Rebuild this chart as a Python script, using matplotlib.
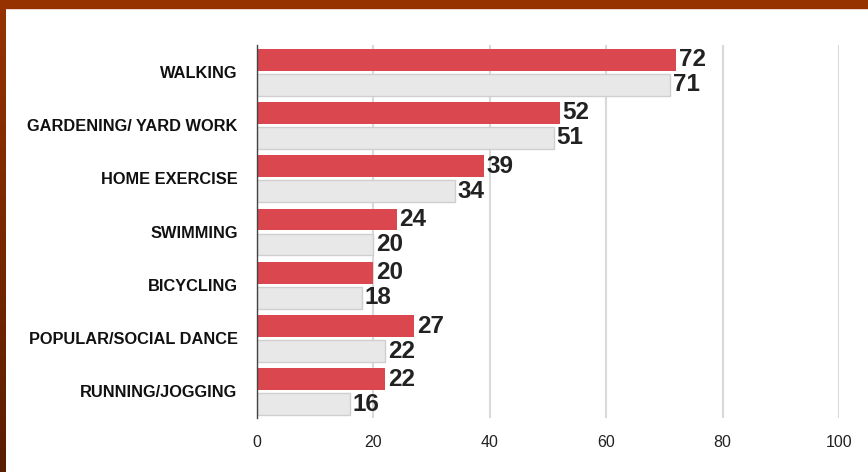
import matplotlib
matplotlib.use("Agg")
import matplotlib.pyplot as plt
import numpy as np
from matplotlib.colors import LinearSegmentedColormap
from matplotlib.patches import Rectangle

categories = ["WALKING", "GARDENING/ YARD WORK", "HOME EXERCISE", "SWIMMING",
              "BICYCLING", "POPULAR/SOCIAL DANCE", "RUNNING/JOGGING"]
series_red = [72, 52, 39, 24, 20, 27, 22]
series_gray = [71, 51, 34, 20, 18, 22, 16]
xticks = [0, 20, 40, 60, 80, 100]

plt.rcParams['font.family'] = ['Liberation Sans', 'DejaVu Sans']

W, H = 868, 472
fig = plt.figure(figsize=(W / 100, H / 100), dpi=100)
fig.patch.set_facecolor('white')

ax = fig.add_axes([257 / W, 1 - 418 / H, (839 - 257) / W, (418 - 45) / H])
y = np.arange(len(categories))
h = 0.41
ax.barh(y - 0.225, series_red, height=h, color='#db474e', zorder=3)
ax.barh(y + 0.245, series_gray, height=h, color='#e8e8e8', edgecolor='#cfcfcf',
        linewidth=1, zorder=3)

for yi, v in zip(y, series_red):
    ax.annotate(str(v), (v, yi - 0.225), xytext=(2, 0), textcoords='offset points',
                va='center', ha='left', fontsize=17.5, fontweight='bold', color='#222222')
for yi, v in zip(y, series_gray):
    ax.annotate(str(v), (v, yi + 0.245), xytext=(2, 0), textcoords='offset points',
                va='center', ha='left', fontsize=17.5, fontweight='bold', color='#222222')

ax.set_xlim(0, 100)
ax.set_ylim(len(categories) - 0.5, -0.5)
ax.set_xticks(xticks)
ax.set_xticklabels([str(t) for t in xticks], fontsize=11.5, color='#222222')
ax.set_yticks(y)
ax.set_yticklabels(categories, fontsize=11.8, fontweight='bold', color='#111111')
ax.tick_params(axis='x', length=0, pad=12)
ax.tick_params(axis='y', length=0, pad=14)
ax.xaxis.grid(True, color='#d9d9d9', linewidth=1.5, zorder=0)
ax.set_axisbelow(True)
for s in ['top', 'right', 'bottom']:
    ax.spines[s].set_visible(False)
ax.spines['left'].set_color('#444444')
ax.spines['left'].set_linewidth(1)
ax.spines['left'].set_zorder(4)

# top border
fig.add_artist(Rectangle((0, 1 - 8 / H), 1, 8 / H, transform=fig.transFigure,
                         color='#963200', zorder=10))
# left gradient border
bax = fig.add_axes([0, 0, 6 / W, 1 - 8 / H])
cmap = LinearSegmentedColormap.from_list('b', ['#963200', '#5a1e00'])
bax.imshow(np.linspace(0, 1, 200).reshape(-1, 1), aspect='auto', cmap=cmap)
bax.axis('off')

fig.savefig('out.png', dpi=100)
